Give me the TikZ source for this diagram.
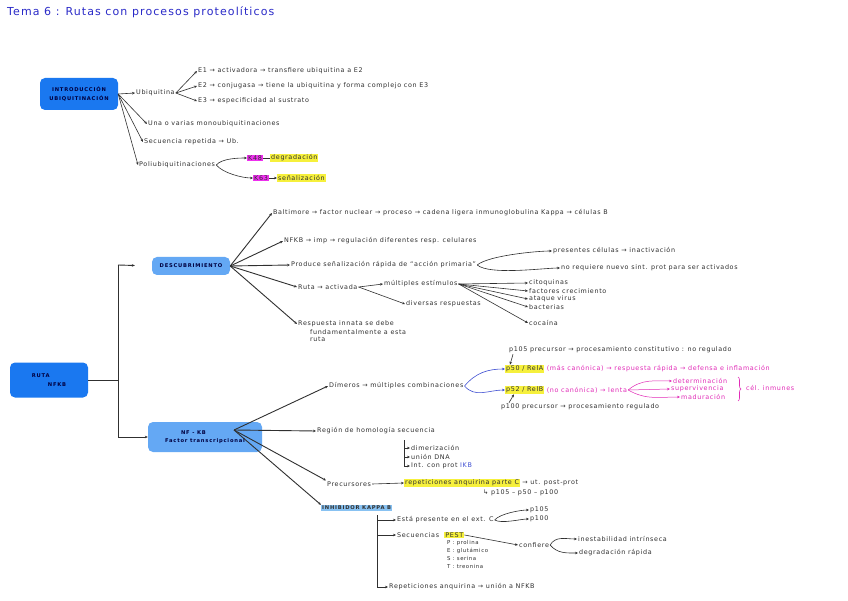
\documentclass[tikz,border=0pt]{standalone}
\usepackage{fontspec}
\setmainfont{DejaVu Sans}
\newfontfamily\hand[LetterSpace=10]{DejaVu Sans}
\newfontfamily\handcaps[LetterSpace=15]{DejaVu Sans}
\usetikzlibrary{arrows.meta, positioning, calc, decorations.pathreplacing}
\definecolor{InkGray}{HTML}{303030}
\definecolor{RouteBlue}{HTML}{1A78F0}
\definecolor{SoftBlue}{HTML}{64A8F4}
\definecolor{PaleBlue}{HTML}{88C2F2}
\definecolor{TitleBlue}{HTML}{2A2AC8}
\definecolor{MarkYellow}{HTML}{F6F03C}
\definecolor{MarkMagenta}{HTML}{EE30EE}
\definecolor{NotePink}{HTML}{E22CB8}
\definecolor{LinkBlue}{HTML}{3E4ED2}

\begin{document}
\begin{tikzpicture}[
  x=1pt, y=-1pt,
  >={Stealth[length=3pt,width=2.6pt]},
  note/.style={anchor=west, inner sep=1pt, text=InkGray,
    font=\hand\fontsize{6.4}{7.5}\selectfont},
  mainbox/.style={rounded corners=5pt, fill=RouteBlue, text=black!75!blue,
    font=\handcaps\fontsize{5.2}{8.5}\selectfont\bfseries, align=left},
  subbox/.style={mainbox, fill=SoftBlue},
  hiy/.style={note, fill=MarkYellow},
  him/.style={note, fill=MarkMagenta},
  pinknote/.style={note, text=NotePink},
  branch/.style={->, draw=InkGray, line width=0.6pt},
  bigbranch/.style={->, draw=InkGray, line width=0.9pt},
  trunk/.style={draw=InkGray, line width=0.9pt},
  node distance=2pt
]
\useasboundingbox[fill=white] (0,0) rectangle (848,601);

% title
\node[note, text=TitleBlue, font=\hand\fontsize{11}{13}\selectfont] (title) at (6,12)
  {Tema 6 : Rutas con procesos proteolíticos};

% ---------- ubiquitination ----------
\node[mainbox, minimum width=78pt, minimum height=32pt, align=center] (ubi) at (79,94)
  {INTRODUCCIÓN\\UBIQUITINACIÓN};
\node[note] (ubq) at (135,93) {Ubiquitina};
\node[note] (e1) at (197,71) {E1 → activadora → transfiere ubiquitina a E2};
\node[note] (e2) at (197,86) {E2 → conjugasa → tiene la ubiquitina y forma complejo con E3};
\node[note] (e3) at (197,101) {E3 → especificidad al sustrato};
\node[note] (mono) at (147,124) {Una o varias monoubiquitinaciones};
\node[note] (secu) at (143,142) {Secuencia repetida → Ub.};
\node[note] (poli) at (138,165) {Poliubiquitinaciones};
\node[him] (k48) at (247,158) {K48};
\node[hiy, right=7pt of k48] (deg) {degradación};
\node[him] (k63) at (253,178) {K63};
\node[hiy, right=8pt of k63] (sena) {señalización};

\draw[branch] (ubi.east) -- (ubq.west);
\draw[branch] (ubq.east) -- (e1.west);
\draw[branch] (ubq.east) -- (e2.west);
\draw[branch] (ubq.east) -- (e3.west);
\draw[branch] (ubi.east) -- (mono.west);
\draw[branch] (ubi.east) -- (secu.west);
\draw[branch] (ubi.east) -- (poli.west);
\draw[branch] (poli.east) to[out=50,in=180,looseness=0.7] (k48.west);
\draw[branch] (poli.east) to[out=-50,in=180,looseness=0.7] (k63.west);
\draw[draw=InkGray, line width=0.6pt] (k48.east) -- (deg.west);
\draw[branch] (k63.east) -- (sena.west);

% ---------- ruta NFKB ----------
\node[mainbox, minimum width=78pt, minimum height=35pt] (ruta) at (49,380)
  {RUTA\\\hspace*{16pt}NFKB};
\coordinate (jTop) at (118,265);
\coordinate (jMid) at (118,380);
\coordinate (jBot) at (118,437);
\node[subbox, minimum width=78pt, minimum height=18pt] (desc) at (191,266) {DESCUBRIMIENTO};
\node[subbox, minimum width=114pt, minimum height=30pt] (nfkb) at (205,437)
  {\hspace*{16pt}NF - KB\\Factor transcripcional};
\draw[trunk] (ruta.east) -- (jMid);
\draw[trunk] (jTop) -- (jBot);
\draw[bigbranch, shorten >=17pt] (jTop) -- (desc.west);
\draw[bigbranch] (jBot) -- (nfkb.west);

% descubrimiento
\node[note] (bal) at (272,213) {Baltimore → factor nuclear → proceso → cadena ligera inmunoglobulina Kappa → células B};
\node[note] (nfr) at (283,241) {NFKB → imp → regulación diferentes resp. celulares};
\node[note] (prod) at (290,265) {Produce señalización rápida de “acción primaria”};
\node[note] (pres) at (552,251) {presentes células → inactivación};
\node[note] (noreq) at (560,268) {no requiere nuevo sint. prot para ser activados};
\node[note] (rutaA) at (297,287) {Ruta → activada};
\node[note] (mult) at (383,284) {múltiples estímulos};
\node[note] (divr) at (405,304) {diversas respuestas};
\node[note] (cito) at (528,283) {citoquinas};
\node[note] (fact) at (528,291) {factores crecimiento};
\node[note] (ataq) at (528,299) {ataque virus};
\node[note] (bact) at (528,307) {bacterias};
\node[note] (coca) at (528,323) {cocaína};
\node[note] (resp) at (297,324) {Respuesta innata se debe};
\node[note, anchor=north west, align=left, below right=0pt and 12pt of resp.south west] (resp2)
  {fundamentalmente a esta\\ruta};

\draw[bigbranch] (desc.east) -- (bal.west);
\draw[bigbranch] (desc.east) -- (nfr.west);
\draw[bigbranch] (desc.east) -- (prod.west);
\draw[bigbranch] (desc.east) -- (rutaA.west);
\draw[bigbranch] (desc.east) -- (resp.west);
\draw[branch] (prod.east) to[out=40,in=180,looseness=0.5] (pres.west);
\draw[branch] (prod.east) to[out=-40,in=180,looseness=0.5] (noreq.west);
\draw[branch] (rutaA.east) -- (mult.west);
\draw[branch] (rutaA.east) -- (divr.west);
\foreach \s in {cito, fact, ataq, bact, coca}
  \draw[branch] (mult.east) -- (\s.west);

% NF-KB
\coordinate (nfHub) at (234,430);
\node[note] (dim) at (328,386) {Dímeros → múltiples combinaciones};
\node[note] (p105) at (508,350) {p105 precursor → procesamiento constitutivo : no regulado};
\node[hiy] (p50) at (505,369) {p50 / RelA};
\node[pinknote, right=1pt of p50] (p50n) {(más canónica) → respuesta rápida → defensa e inflamación};
\node[hiy] (p52) at (505,390) {p52 / RelB};
\node[pinknote, right=1pt of p52] (p52n) {(no canónica) → lenta};
\node[note] (p100) at (500,407) {p100 precursor → procesamiento regulado};
\node[pinknote] (det) at (672,381) {determinación};
\node[pinknote] (sup) at (670,389) {supervivencia};
\node[pinknote] (mad) at (680,397) {maduración};
\coordinate (bTop) at (738,377);
\coordinate (bBot) at (738,401);
\node[pinknote] (cel) at (745,388) {cél. inmunes};

\draw[bigbranch] (nfHub) -- (dim.west);
\draw[->, draw=LinkBlue, line width=0.6pt] (dim.east) to[out=50,in=180] (p50.west);
\draw[->, draw=LinkBlue, line width=0.6pt] (dim.east) to[out=-50,in=180] (p52.west);
\draw[branch] ($(p105.south west)+(5,0)$) -- ($(p50.north west)+(5,0)$);
\draw[branch] ($(p100.north west)+(9,0)$) -- ($(p52.south west)+(9,0)$);
\draw[->, draw=NotePink, line width=0.5pt] (p52n.east) to[out=40,in=180] (det.west);
\draw[->, draw=NotePink, line width=0.5pt] (p52n.east) -- (sup.west);
\draw[->, draw=NotePink, line width=0.5pt] (p52n.east) to[out=-30,in=180] (mad.west);
\draw[draw=NotePink, line width=0.6pt, decorate, decoration={brace, amplitude=3pt}] (bTop) -- (bBot);

\node[note] (reg) at (316,431) {Región de homología secuencia};
\coordinate (regFoot) at (404,440);
\node[note] (dimz) at (410,448) {dimerización};
\node[note] (union) at (410,457) {unión DNA};
\node[note] (intp) at (410,466) {Int. con prot \textcolor{LinkBlue}{IKB}};
\draw[bigbranch] (nfHub) -- (reg.west);
\draw[branch] (regFoot) |- (dimz.west);
\draw[branch] (regFoot) |- (union.west);
\draw[branch] (regFoot) |- (intp.west);

\node[note] (prec) at (326,484) {Precursores};
\node[hiy] (rep1) at (404,483) {repeticiones anquirina parte C};
\node[note, right=1pt of rep1] (post) {→ ut. post-prot};
\node[note] (pp) at (482,493) {↳ p105 – p50 – p100};
\draw[bigbranch] (nfHub) -- (prec.north west);
\draw[branch] (prec.east) -- (rep1.west);

\node[note, fill=PaleBlue, font=\handcaps\fontsize{5.2}{6}\selectfont\bfseries] (ikb) at (321,508) {INHIBIDOR KAPPA B};
\draw[bigbranch] (nfHub) -- (ikb.north west);
\coordinate (ikbFoot) at (377,515);
\node[note] (est) at (396,520) {Está presente en el ext. C};
\node[note] (p105b) at (529,510) {p105};
\node[note] (p100b) at (529,519) {p100};
\node[note] (sec) at (396,535) {Secuencias};
\node[hiy, right=4pt of sec] (pest) {PEST};
\node[note, anchor=north west, align=left, font=\hand\fontsize{5.4}{8}\selectfont] (letters) at (446,539)
  {P : prolina\\E : glutámico\\S : serina\\T : treonina};
\node[note] (conf) at (518,545) {confiere};
\node[note] (ines) at (577,539) {inestabilidad intrínseca};
\node[note] (degr) at (578,553) {degradación rápida};
\node[note] (rep2) at (388,587) {Repeticiones anquirina → unión a NFKB};
\draw[branch] (ikbFoot) |- (est.west);
\draw[branch] (ikbFoot) |- (sec.west);
\draw[branch] (ikbFoot) |- (rep2.west);
\draw[branch] (est.east) to[out=50,in=180,looseness=0.6] (p105b.west);
\draw[branch] (est.east) to[out=-30,in=180,looseness=0.6] (p100b.west);
\draw[branch] (pest.east) -- (conf.west);
\draw[branch] (conf.east) to[out=60,in=180] (ines.west);
\draw[branch] (conf.east) to[out=-50,in=180] (degr.west);
\end{tikzpicture}
\end{document}
